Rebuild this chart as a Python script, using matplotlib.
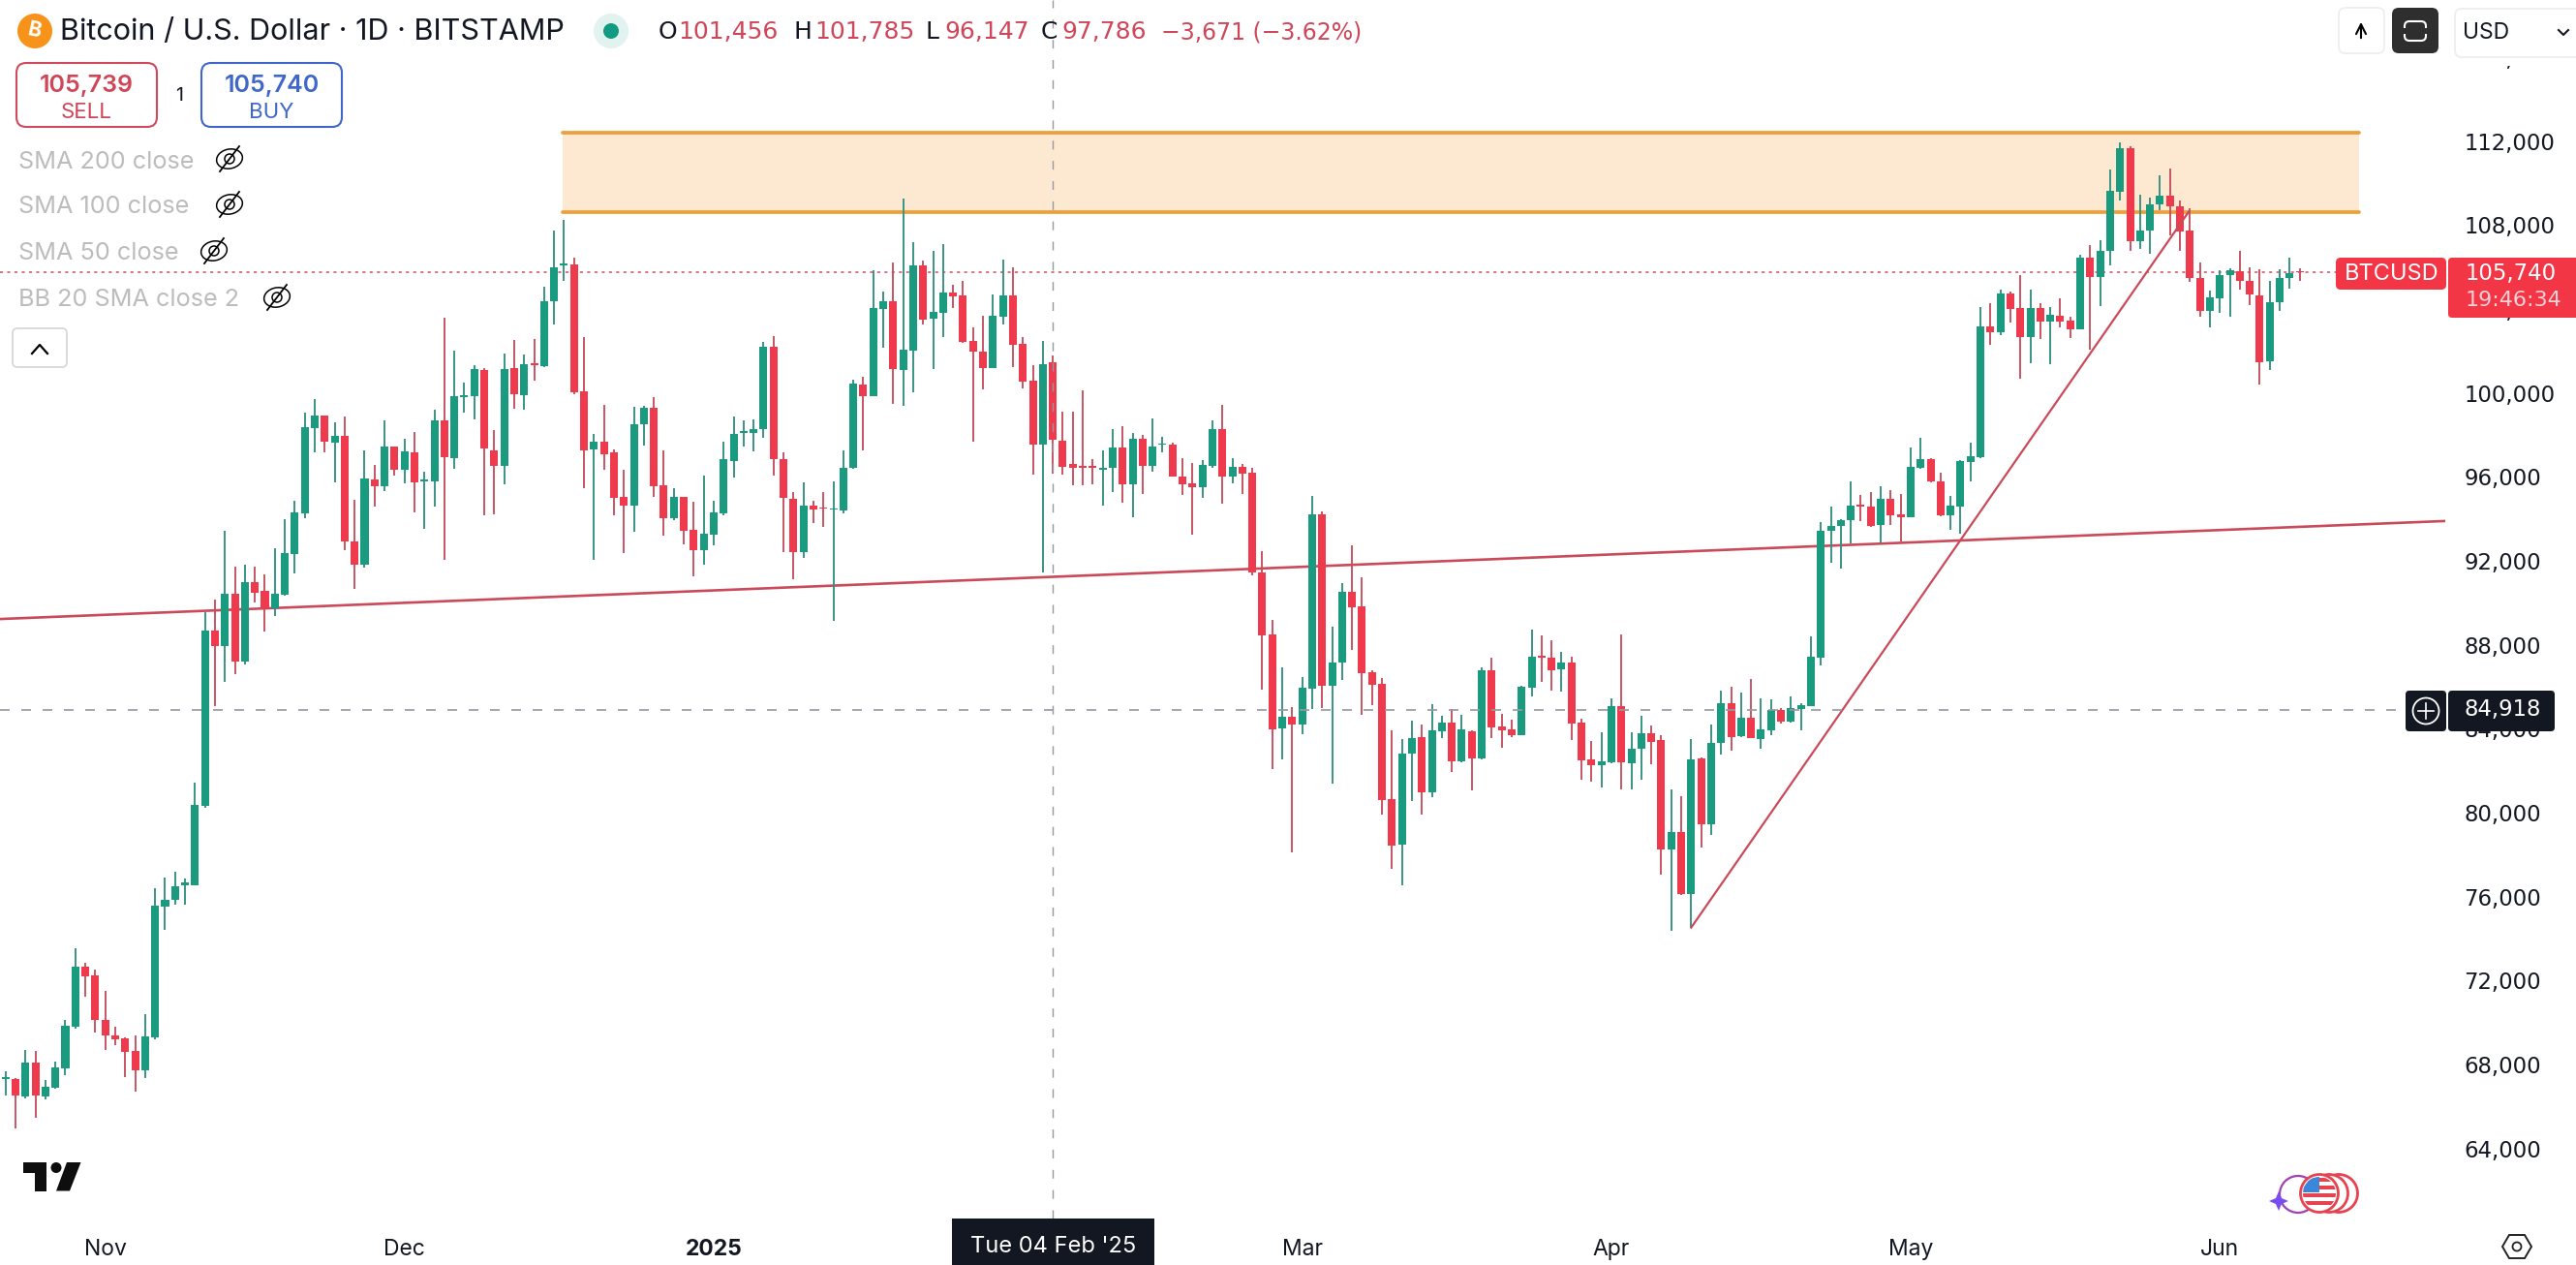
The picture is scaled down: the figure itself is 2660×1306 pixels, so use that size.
#!/usr/bin/env python
"""BTCUSD daily candles, TradingView style."""
import matplotlib; matplotlib.use('Agg')
import matplotlib.pyplot as plt
from matplotlib.patches import Circle, Ellipse, FancyBboxPatch, Polygon, Rectangle

plt.rcParams['font.family'] = ['Inter', 'DejaVu Sans']

opens = [67300,67330,66480,68100,66480,66900,67830,69800,72660,72250,
         70130,69380,69260,68640,67720,69300,75520,75830,76540,76560,
         80310,88700,87960,90450,87220,90990,90580,89730,90390,92340,
         94270,98340,98930,97650,97960,92930,91840,95880,95570,97450,
         96340,97170,95800,95800,98700,96880,99800,99850,101110,97270,
         96540,101190,99910,101400,101300,104390,106100,106110,100080,97310,
         97680,97190,95070,94640,98510,99300,95590,94020,95040,93470,
         92530,93270,94270,96760,98100,98080,98300,102200,96850,94960,
         92420,94640,94550,94430,94420,96420,100420,99870,104020,104360,
         101110,102040,106080,103530,103820,104790,104650,102470,101960,101190,
         103650,104650,102340,100570,97560,101456,97730,96600,96530,96530,
         96350,96450,97390,95650,97800,96530,97520,97540,96020,95700,
         95530,96530,98270,96030,96470,96190,91450,88500,84020,84580,
         84220,85930,94220,86050,87160,90530,89850,86700,86140,80650,
         78500,82810,83610,80990,83880,84300,82470,83870,82610,86790,
         84100,83960,83710,85960,87470,87380,86850,87160,84300,82550,
         82270,82420,85080,82380,83070,83780,83450,78270,79090,76150,
         82580,79470,83310,85220,83650,84530,83530,83930,84880,84350,
         84960,85100,87410,93420,93650,93930,94700,94580,93690,94950,
         94220,94100,96450,96850,95780,94180,94610,96730,96960,103170,
         102910,104740,104040,102680,104030,103420,103700,103430,103040,106450,
         105540,106770,109590,111660,107230,107760,108990,109400,108880,107740,
         105500,103910,104530,105600,105790,105330,104640,101500,104310,105500,105800]
closes = [67400,66520,68100,66520,66950,67870,69840,72660,72200,70130,
          69380,69220,68600,67720,69340,75580,75850,76500,76660,80370,
          88700,87920,90450,87220,90990,90500,89730,90450,92380,94310,
          98370,98930,97700,97960,92940,91840,95930,95570,97450,96340,
          97220,95740,95880,98700,96960,99850,99880,101140,97370,96540,
          101140,99960,101370,101340,104370,105990,106180,100050,97270,97680,
          97100,95010,94640,98510,99300,95560,94050,95040,93450,92530,
          93300,94300,96840,98050,98180,98270,102200,96850,94980,92420,
          94640,94450,94480,94500,96420,100450,99870,104050,104360,101160,
          102050,106080,103500,103850,104790,104600,102420,101970,101190,103680,
          104650,102310,100540,97560,101370,97786,96500,96450,96430,96430,
          96430,97390,95650,97800,96530,97450,97600,96020,95650,95530,
          96580,98270,96030,96470,96160,91470,88470,83990,84580,84220,
          85960,94220,86050,87160,90530,89810,86650,86110,80610,78450,
          82810,83550,80990,83910,84300,82470,83960,82610,86790,84080,
          83930,83710,85990,87420,87400,86810,87160,84270,82510,82270,
          82450,85080,82420,83040,83780,83390,78270,79090,76120,82550,
          79470,83310,85220,83620,84530,83580,83960,84880,84350,84990,
          85130,87420,93420,93650,93960,94620,94600,93650,94950,94180,
          94080,96480,96840,95780,94190,94620,96760,96990,103170,102910,
          104740,104020,102680,104030,103420,103710,103420,103040,106450,105540,
          106770,109620,111660,107230,107760,108990,109400,108880,107710,105500,
          103910,104540,105600,105850,105340,104680,101470,104310,105500,105700,105740]
highs = [67680,67350,68720,68650,67250,68160,70150,73550,72850,72550,
         71500,69800,69300,69380,70420,76410,76910,77180,76870,81430,
         89580,90150,93420,91730,91810,91730,91350,92580,93990,94850,
         99070,99700,98930,98600,98880,94910,97270,96570,98680,97450,
         97800,98140,96240,99190,103570,102000,100500,101310,101190,98220,
         101880,102530,101830,102570,105070,107740,108260,106450,102650,98040,
         99420,97300,96340,99340,99370,99800,97250,95450,95040,94810,
         96070,94850,97680,98880,98700,98730,102420,102730,97190,95270,
         95730,94880,95270,95810,97250,100640,100760,105830,104820,106220,
         109260,107190,106300,106770,107090,105140,105340,103110,103680,104700,
         106340,105990,102650,101340,102470,101785,99110,99110,100140,96840,
         97250,98270,98420,98080,97990,98770,97900,97650,96910,96650,
         96810,98700,99420,96880,96600,96420,92450,89190,86930,85040,
         86470,95080,94340,88880,90960,92730,91220,86790,86420,83930,
         83500,84380,84190,85190,84610,84960,84650,83930,86910,87380,
         84730,84420,86040,88730,88450,88220,87680,87420,84480,83420,
         83840,85450,88500,83840,84610,84150,83680,81120,80790,83500,
         82650,84220,85810,85990,85730,86380,85450,85390,85010,85550,
         85240,88420,93830,94600,94000,95780,95160,95270,95550,95390,
         95190,97410,97850,96880,96190,95110,96810,97620,104080,104270,
         104930,104850,105620,104930,104270,104080,104500,103620,106570,107030,
         107270,110650,111930,111760,109450,109310,110370,110680,109190,108800,
         106230,104880,105850,105930,106760,105990,105880,105340,105880,106450,105930]
lows = [66520,64940,66400,65460,66330,66850,67490,69690,71230,69530,
        68720,68950,67410,66710,67370,69220,74440,75640,75600,76520,
        80250,85060,86220,86610,87080,90020,88650,89350,90360,91380,
        94050,97190,97190,95760,92530,90680,91700,94600,95340,96080,
        95710,94330,93540,94600,92040,96400,99060,98730,94190,94240,
        95650,99270,99220,100600,101220,103280,105340,99960,95470,92070,
        96340,94150,92350,93410,97500,95070,93220,93960,92790,91270,
        91840,92730,94150,95990,97470,97220,97880,96070,92420,91120,
        92150,93780,93620,89140,94270,96380,97270,99850,102170,99500,
        99410,100050,103270,101160,102680,104060,102390,97680,100170,101180,
        103270,101230,100230,96110,91470,96147,96110,95620,95620,95650,
        94650,95270,94770,94070,95190,96270,97190,96000,95160,93270,
        94980,96420,94730,95700,95190,91300,85880,82100,82550,78120,
        83760,84960,85010,81410,86340,87780,84680,85110,79930,77350,
        76550,80580,79890,80760,83580,81920,82420,81080,82530,83580,
        83110,83620,83700,85530,86240,85840,85780,83470,81580,81500,
        81220,82380,81110,81110,81580,82320,77070,74390,76090,74530,
        78350,78920,82760,82960,83620,83570,83070,83710,84270,84310,
        83930,85090,87040,91930,91650,92850,93880,93620,92850,93730,
        92920,94090,96390,95750,94120,93500,93310,95780,96880,102300,
        102760,103340,100700,101420,102570,101370,103110,102640,103030,102080,
        104160,106080,109190,106790,106850,106620,108700,107530,106760,105310,
        103620,103110,103800,103650,104910,104190,100390,101110,103930,104990,105340]

# bar number 0 is 22 Oct 2024
month_pos = [10, 40, 71, 130, 161, 191, 222]
month_labels = ['Nov', 'Dec', '2025', 'Mar', 'Apr', 'May', 'Jun']
price_ticks = list(range(64000, 116001, 4000))

zone_x = [55.9, 236]
zone_low, zone_high = 108640, 112380
flat_x, flat_y = [-0.55, 244.6], [89230, 93900]
rise_x, rise_y = [169, 218.9], [74530, 108650]
last_price = 105740
cross_bar, cross_price = 105, 84918

UP, DOWN = '#1a9a7f', '#ef3a4d'
UP_WICK, DOWN_WICK = '#34907e', '#c4505f'
LINE_RED = '#cb4a5a'
INK = '#131722'
OHLC_RED = '#cf4659'
NUM = ['DejaVu Sans']  # evenly spaced digits, same widths as the original labels

W, H = 2660, 1306
PANE_R, PANE_B = 2525, 1258
fig = plt.figure(figsize=(W / 100, H / 100), dpi=100, facecolor='white')
ax = fig.add_axes([0, (H - PANE_B) / H, PANE_R / W, PANE_B / H])
ax.set_xlim(-0.553, 244.6)
ax.set_ylim(60667, 118724)
for s in ax.spines.values(): s.set_visible(False)

# zone, trend lines
ax.fill_between(zone_x, zone_low, zone_high, color='#fde9d2', lw=0, zorder=1)
for lvl in (zone_low, zone_high):
    ax.plot(zone_x, [lvl, lvl], color='#ef9f37', lw=2.7, solid_capstyle='round', zorder=2)
ax.plot(flat_x, flat_y, color=LINE_RED, lw=1.9, zorder=2)

# candles
bars = list(range(len(opens)))
for i in bars:
    up = closes[i] >= opens[i]
    ax.plot([i, i], [lows[i], highs[i]], color=UP_WICK if up else DOWN_WICK, lw=1.35,
            solid_capstyle='butt', zorder=3)
    ax.bar(i, abs(closes[i] - opens[i]), bottom=min(opens[i], closes[i]), width=0.78,
           color=UP if up else DOWN, lw=0, zorder=4)

ax.plot(rise_x, rise_y, color=LINE_RED, lw=1.6, zorder=5)

# last price + crosshair
ax.plot([-0.55, 233.6], [last_price, last_price], color='#c8505f', lw=1.1,
        ls=(0, (2.0, 2.9)), zorder=2.5)
ax.plot([-0.55, 240.6], [cross_price, cross_price], color='#9598a1', lw=1.2,
        ls=(0, (6, 7.2)), zorder=6)
ax.axvline(cross_bar, color='#9598a1', lw=1.0, ls=(0, (6.5, 8.5)), zorder=6)

# axes labels
ax.yaxis.tick_right()
ax.set_yticks(price_ticks, [f'{p:,}' for p in price_ticks], family=NUM)
ax.tick_params(axis='y', length=0, pad=14, labelsize=16.4, labelcolor=INK)
ax.set_xticks(month_pos, month_labels)
ax.tick_params(axis='x', length=0, pad=15, labelsize=16.5, labelcolor=INK)
ax.get_xticklabels()[2].set_fontweight('bold')

# chrome drawn in pixel coordinates on top
ui = fig.add_axes([0, 0, 1, 1], facecolor='none')
ui.set_xlim(0, W); ui.set_ylim(H, 0); ui.axis('off')

def box(x0, y0, x1, y1, fc='white', ec='none', lw=1.5, r=6):
    ui.add_patch(FancyBboxPatch((x0, y0), x1 - x0, y1 - y0, boxstyle=f'round,pad=0,rounding_size={r}',
                                fc=fc, ec=ec, lw=lw))

def txt(x, y, s, size=15, color=INK, ha='left', **kw):
    ui.text(x, y + 1, s, fontsize=size, color=color, ha=ha, va='center', **kw)

def eye_off(cx, cy):
    ui.add_patch(Ellipse((cx, cy), 27, 20, angle=-12, fc='white', ec='black', lw=1.1))
    ui.add_patch(Circle((cx, cy), 5, fc='none', ec='black', lw=1.1))
    ui.plot([cx - 10, cx + 10], [cy + 13, cy - 13], color='black', lw=1.3)

# header
ui.add_patch(Circle((36, 32), 18, fc='#f7931a', ec='none'))
txt(36, 31, 'B', size=15, color='white', ha='center', fontweight='bold', rotation=-12)
txt(62, 32, 'Bitcoin / U.S. Dollar · 1D · BITSTAMP', size=22)
ui.add_patch(Circle((631, 32), 18, fc='#e2f2ef', ec='none'))
ui.add_patch(Circle((631, 32), 8, fc='#119b82', ec='none'))
for x, s, c in [(680, 'O', INK), (700, '101,456', OHLC_RED), (819, 'H', INK), (841, '101,785', OHLC_RED),
                (956, 'L', INK), (975, '96,147', OHLC_RED), (1075, 'C', INK), (1096, '97,786', OHLC_RED)]:
    txt(x, 32, s, size=18, color=c, family=NUM)
txt(1199, 32, '−3,671 (−3.62%)', size=17, color=OHLC_RED, family=NUM)

# sell / buy
box(17, 65, 162, 131, ec='#cf4a5c', lw=1.5, r=10)
box(208, 65, 353, 131, ec='#3f66c8', lw=1.5, r=10)
txt(89.5, 87, '105,739', size=18, color='#cf4659', ha='center', fontweight='semibold')
txt(89.5, 115, 'SELL', size=16, color='#cf4659', ha='center')
txt(280.5, 87, '105,740', size=18, color='#3f66c8', ha='center', fontweight='semibold')
txt(280.5, 115, 'BUY', size=16, color='#3f66c8', ha='center')
txt(185, 98, '1', size=14, ha='center')

# legend
for y, s, ex in [(166, 'SMA 200 close', 237), (213, 'SMA 100 close', 237),
                 (261, 'SMA 50 close', 221), (309, 'BB 20 SMA close 2', 286)]:
    txt(19, y, s, size=18.2, color='#bcbcbc')
    eye_off(ex, y - 2)
box(13, 339, 69, 379, ec='#d8d8d8', lw=1.3, r=5)
ui.plot([33, 41, 49], [365, 356, 365], color='black', lw=1.6)

# top right buttons
box(2415, 8, 2462, 55, ec='#eceff2', lw=1.3, r=7)
ui.annotate('', xy=(2438, 20), xytext=(2438, 42), arrowprops=dict(arrowstyle='->', color='black', lw=1.5, mutation_scale=18))
box(2470, 8, 2518, 55, fc='#2e2e2e', r=7)
box(2483, 22, 2505, 42, fc='none', ec='white', lw=1.5, r=5)
ui.add_patch(Rectangle((2480, 29), 28, 6, fc='#2e2e2e', ec='none'))
ui.add_patch(Rectangle((2530, 50), 130, 17.5, fc='white', ec='none'))  # hides the 116,000 digits
box(2535, 9, 2675, 59, ec='#eceff2', lw=1.3, r=7)
txt(2543, 33, 'USD', size=16.5)
ui.plot([2642, 2647, 2652], [31, 36, 31], color=INK, lw=1.5)

# price labels
box(2412, 266, 2526, 299, fc='#f23645', r=5)
txt(2421, 282, 'BTCUSD', size=17, color='white')
box(2528, 266, 2675, 328, fc='#f23645', r=4)
txt(2546, 281, f'{last_price:,}', size=16.4, color='white', family=NUM)
txt(2546, 309, '19:46:34', size=16, color='#fbd3d7', family=NUM)
box(2484, 713, 2526, 755, fc=INK, r=4)
ui.add_patch(Circle((2505, 734), 13.5, fc='none', ec='white', lw=1.3))
ui.plot([2497, 2513], [734, 734], color='white', lw=1.2)
ui.plot([2505, 2505], [726, 742], color='white', lw=1.2)
box(2528, 713, 2638, 755, fc=INK, r=4)
txt(2545, 732, f'{cross_price:,}', size=16.4, color='white', family=NUM)

# date label
ui.add_patch(Rectangle((983, 1258), 209, 48, fc=INK, ec='none'))
txt(1087.5, 1286, "Tue 04 Feb '25", size=17, color='white', ha='center')

# logo
ui.add_patch(Polygon([(24, 1200), (48, 1200), (48, 1229.5), (36, 1229.5), (36, 1210.5), (24, 1210.5)], fc='#0e0e0e', ec='none'))
ui.add_patch(Circle((58, 1205.5), 5.5, fc='#0e0e0e', ec='none'))
ui.add_patch(Polygon([(58, 1229.5), (69, 1200), (83.5, 1200), (72, 1229.5)], fc='#0e0e0e', ec='none'))

# events
ui.add_patch(Circle((2373, 1233), 19, fc='none', ec='#a33fb5', lw=1.6))
ui.add_patch(Polygon([(2353, 1230), (2356, 1237), (2363, 1240), (2356, 1243), (2353, 1250), (2350, 1243),
                      (2343, 1240), (2350, 1237)], fc='#7a4df0', ec='none'))
for cx in (2415, 2405, 2395):
    ui.add_patch(Circle((cx, 1232), 19.5, fc='white', ec='#e5434f', lw=2))
clip = Circle((2395, 1232), 17, transform=ui.transData)
for yy in (1216, 1224, 1232, 1240):
    r = ui.add_patch(Rectangle((2375, yy), 40, 4, fc='#e5434f', ec='none'))
    r.set_clip_path(clip)
r = ui.add_patch(Rectangle((2375, 1214), 20, 17, fc='#3a86d8', ec='none'))
r.set_clip_path(clip)

# settings
ui.add_patch(Polygon([(2584, 1287), (2591, 1275), (2607, 1275), (2614, 1287), (2607, 1299), (2591, 1299)],
                     fc='white', ec='#222222', lw=1.4))
ui.add_patch(Circle((2599, 1287), 4.5, fc='white', ec='#222222', lw=1.3))

fig.savefig('out.png', dpi=100, facecolor='white')
